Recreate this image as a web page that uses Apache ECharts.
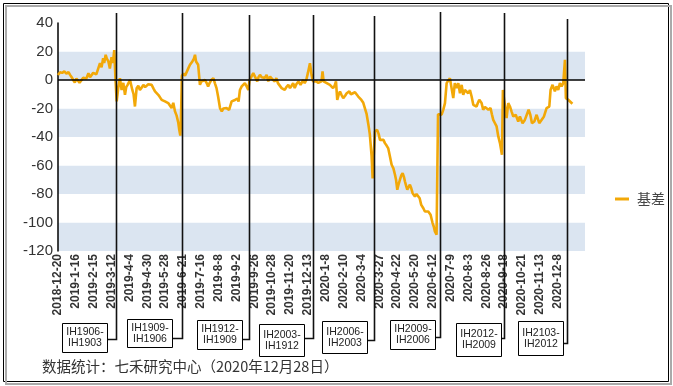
<!DOCTYPE html>
<html><head><meta charset="utf-8">
<script src="https://cdn.jsdelivr.net/npm/echarts@6/dist/echarts.min.js"></script>
<style>html,body{margin:0;padding:0;background:#fff}#c{width:673px;height:386px}</style>
</head><body><div id="c"></div>
<script>
// x = trading-day index from 2018-12-20; a tick label every 17 trading days
var tickLabels = ['2018-12-20','2019-1-16','2019-2-15','2019-3-12','2019-4-4','2019-4-30','2019-5-28','2019-6-21','2019-7-16','2019-8-8','2019-9-2','2019-9-26','2019-10-28','2019-11-20','2019-12-13','2020-1-8','2020-2-10','2020-3-4','2020-3-27','2020-4-22','2020-5-20','2020-6-12','2020-7-9','2020-8-3','2020-8-26','2020-9-18','2020-10-21','2020-11-13','2020-12-8'];
var tickStep = 17;
var seriesName = '基差';
// [trading-day index, basis]
var basis = [
[0,3.5],[2,5.5],[4,5],[6,6],[8,4.5],[10,5.5],[11.5,3.6],[13,2],[14.5,0],[16,-1.7],[17.5,1],[19,0],[20.5,-2],[22,-1],[24,1.5],[25.7,2.5],[27,1],[29,4.8],[30.5,2],[32,3],[33.5,5],[35,6],[36.5,4],[38.4,3.6],[40,11.8],[41.5,9],[43,15.3],[44,12],[45.4,17.7],[46.5,15],[48,13],[49.4,8],[51,16],[52.3,12],[53.6,21],[54.8,0],[55.9,-15],
[57.5,-5],[59,1.3],[60.6,-7],[62.2,-2],[63.8,-10.4],[65,-5],[66.3,-3.4],[68.6,0],[70.8,-7],[72,-10],[73.3,-18.6],[74.9,-5.7],[76.5,-4],[78,-7],[80,-5],[81.3,-3.4],[83,-5],[84.4,-4.5],[86,-3],[87.6,-2],[89.2,-3.4],[91,-6],[92.4,-8],[94,-9],[95.5,-10.4],[97,-12],[98.7,-13.9],[100,-13],[101.9,-15],[103.5,-16],[105,-16.2],[106.5,-17],[108.2,-19.7],[109.8,-16],[111.4,-22],[113,-25],[114.6,-30],[115.5,-35],[116.5,-39],
[117,-32],[118,3],[119.5,4.5],[121,3],[122.5,2],[124,8],[125.7,10.7],[127,12],[128,13],[129.5,15],[130.5,17.7],[131.5,13],[132,12],[133.5,10.7],[135.2,-3.4],[136.5,-1],[138,0],[140,0],[141.5,-2],[143,-4.6],[144.5,-2],[146,0],[148,1.3],[149.5,-2.3],[151,-5.7],[152.5,-11.6],[154.3,-19.7],[156,-22],[157.5,-20],[159,-21],[160.5,-19.7],[162,-20],[163,-21],[165.4,-15],[167,-14.5],[168.6,-14],[170,-13],[171,-13],[172,-15.2],[173.3,-7],[175,-4.5],[176.5,-5.7],[178,-2.2],[179.7,-4.5],[181.3,-7],
[182.5,0],[184,2],[186,4.8],[187.6,6],[189.8,-1],[191,2],[192.4,3.6],[194,2],[195.6,2.5],[197,1.5],[198.7,3.6],[200.3,-1],[202,2.5],[203.5,1],[205,0],[206.5,-1],[208,1.3],[209.5,-2.2],[211,-3],[213,-5.7],[214.5,-5],[216,-7],[217.5,-5],[219.4,-3.4],[221,-5.7],[222.5,-4],[224,-2.2],[225.5,-5.7],[227,-3],[229,-1],[231,-3.4],[233.6,0],[235,-2.2],[236.5,0],[238,4.8],[240,11.8],[241.5,3.6],[243,-1],
[244.5,-1.5],[246,-1],[248,-2],[249.5,-2.2],[251,-1],[252,6],[253,-1],[254.5,-1.5],[256,-2.2],[257.5,-3],[259,-3.4],[260.5,-4],[262,-5.7],[263.5,-4],[264.8,-1],[266,-13.9],[267.5,-10],[268.6,-8],[270,-10.4],[271.7,-12.7],[273.5,-11],[275,-9.3],[276.5,-10],[277.5,-8],[279,-10],[280.5,-10.4],[282.9,-8.6],[284.5,-10],[286,-11.6],[287.6,-13],[289,-14],[290.8,-16],[292.4,-17.4],[294,-24],[295.6,-31],[297,-38],[298.7,-53],[299.7,-69],
[301,-49],[302,-36],[304,-35],[305.5,-38],[306.7,-42],[308,-41],[310,-42],[311.4,-44.3],[313,-46],[314.6,-48],[316,-53],[317.8,-59.5],[319.5,-62],[321,-66.5],[322,-70],[323.2,-77],[324.5,-73],[325.7,-70],[327,-67],[328.3,-65.3],[329.5,-68],[330.5,-71.2],[331.5,-74],[332.7,-77],[334,-75],[335.2,-73.5],[336.5,-76],[337.8,-79.4],[339,-80],[340,-81.7],[341.5,-80],[343,-79.4],[344.5,-83],[346,-87.6],[348,-90],[349.5,-92.3],[351,-91.5],[352.7,-92.3],[354,-93],[354.9,-94.6],[356.8,-100.4],[358,-103],[359,-106.3],[360.6,-108.6],[362,-24],
[363.5,-24],[365.4,-24.3],[367,-21],[368.6,-16.2],[370.2,-2.2],[371.5,-1],[373.3,1.3],[374.8,2.5],[376.5,-12.7],[378,-2.2],[379.7,-5.7],[381.3,-2.2],[382.9,-9.3],[384.5,-3.4],[386,-10.4],[387.6,-7],[389.2,-5.7],[390.8,-9.3],[392.4,-7],[394,-11.6],[395.6,-17.4],[397,-16],[398.7,-18.6],[400,-16],[401.3,-13.9],[403.5,-16.2],[405,-20.9],[406.7,-19],[408.3,-18.6],[410,-20.9],[412,-19.7],[413.3,-24],[414.6,-28],[416,-30],[417.8,-32.6],[419.4,-39.6],[421,-44.3],[422.9,-52.5],[423.8,-7],
[425,-13.9],[427.3,-26.7],[428.9,-16.2],[430.5,-18.6],[432,-22],[433.7,-25.6],[436,-24.4],[438.4,-29.1],[440,-25.6],[442.5,-30.3],[444.7,-28],[448.3,-20.9],[449.9,-24.4],[451.5,-30.3],[453.7,-29.1],[455.9,-24.4],[458.4,-30.3],[460.6,-28],[462.9,-25.6],[465.4,-19.7],[468,-18.6],[469.2,-7],[471.1,-3.4],[473.3,-8],[474.9,-4.5],[476.5,-7],[478.1,-2.2],[479.7,-4.5],[481.3,-2.2],[482.9,14.2],[483.8,-12.7],[486,-13.9],[487.6,-15],[490,-16.7]
];
// contract roll positions (trading-day index) and their spread labels
var rollIdx = [55.6, 117.8, 181.9, 243.1, 301, 364, 424.8, 485];
var rollLabels = [['IH1906-','IH1903'],['IH1909-','IH1906'],['IH1912-','IH1909'],['IH2003-','IH1912'],['IH2006-','IH2003'],['IH2009-','IH2006'],['IH2012-','IH2009'],['IH2103-','IH2012']];
var sourceText = '数据统计：七禾研究中心（2020年12月28日）';

var chart = echarts.init(document.getElementById('c'));
chart.setOption({
  animation: false,
  backgroundColor: '#fff',
  grid: {left: 58, right: 88, top: 23, bottom: 135, containLabel: false},
  legend: {
    data: [{name: seriesName, icon: 'rect'}], orient: 'vertical', left: 610, top: 187,
    itemWidth: 14, itemHeight: 3,
    textStyle: {fontSize: 14, color: '#444', fontFamily: 'Noto Sans CJK SC', padding: [0,0,0,3]}
  },
  xAxis: {
    type: 'value', min: 0, max: 502, interval: tickStep,
    axisLine: {show: false}, axisTick: {show: false}, splitLine: {show: false},
    axisLabel: {
      rotate: 90, margin: 3, fontSize: 12, fontWeight: 'bold', color: '#333',
      fontFamily: 'Liberation Sans, Arial', showMaxLabel: false,
      formatter: function (v) { return (v % tickStep === 0 && tickLabels[v / tickStep]) ? tickLabels[v / tickStep] : ''; }
    }
  },
  yAxis: {
    type: 'value', min: -120, max: 40, interval: 20,
    axisLine: {show: true, lineStyle: {color: '#000', width: 1.5}},
    axisTick: {show: false},
    splitLine: {show: false},
    splitArea: {show: true, areaStyle: {color: ['#dbe5f1', '#ffffff']}},
    axisLabel: {fontSize: 15, color: '#333', margin: 5, fontFamily: 'Liberation Sans, Arial'}
  },
  series: [{
    name: seriesName, type: 'line', data: basis, symbol: 'none', showSymbol: false,
    lineStyle: {color: '#f2a808', width: 2.6}, itemStyle: {color: '#f2a808'},
    markLine: {
      silent: true, symbol: 'none', label: {show: false},
      lineStyle: {color: '#000', width: 1.5, type: 'solid'},
      data: [{yAxis: 0}]
    },
    z: 3
  }]
});

// annotation boxes beneath the axis (layout only)
var boxLayout = [
  {left: 62, top: 323, h: 29, conn: 339, lt: 13},
  {left: 127, top: 319, h: 28, conn: 338, lt: 13},
  {left: 197, top: 320, h: 29, conn: 339, lt: 15},
  {left: 259, top: 324, h: 32, conn: 338, lt: 15},
  {left: 322, top: 321, h: 32, conn: 340, lt: 16},
  {left: 390, top: 320, h: 29, conn: 337, lt: 12},
  {left: 456, top: 323, h: 33, conn: 338, lt: 13},
  {left: 518, top: 321, h: 34, conn: 343, lt: 19}
];
var g = [];
g.push({type: 'rect', shape: {x: 6, y: 6, width: 665, height: 378}, style: {fill: 'none', stroke: '#aaa', lineWidth: 2}, z: 0});
g.push({type: 'rect', shape: {x: 3.5, y: 3.5, width: 665, height: 378}, style: {fill: '#fff', stroke: '#000', lineWidth: 1}, z: -1});
rollIdx.forEach(function (idx, i) {
  var x = Math.round(chart.convertToPixel({xAxisIndex: 0}, idx)) + 0.5;
  var b = boxLayout[i];
  var bw = 45;
  g.push({type: 'polyline', shape: {points: [[x, b.lt], [x, b.conn + 0.5], [b.left + bw, b.conn + 0.5]]},
    style: {stroke: '#111', lineWidth: 1.6, fill: null}, z: 50});
  g.push({type: 'rect', shape: {x: b.left + 0.5, y: b.top + 0.5, width: bw, height: b.h},
    style: {fill: '#fff', stroke: '#000', lineWidth: 1}, z: 50});
  g.push({type: 'text', x: b.left + bw / 2 + 0.5, y: b.top + b.h / 2 + 0.5,
    style: {text: rollLabels[i].join('\n'), fontSize: 10.5, lineHeight: 11, fill: '#222',
      fontFamily: 'Liberation Sans, Arial', align: 'center', verticalAlign: 'middle'}, z: 51});
});
g.push({type: 'text', left: 42, top: 359,
  style: {text: sourceText, fontSize: 14.5, fill: '#333', fontFamily: 'Noto Sans CJK SC'}, z: 51});
chart.setOption({graphic: g});
</script></body></html>
